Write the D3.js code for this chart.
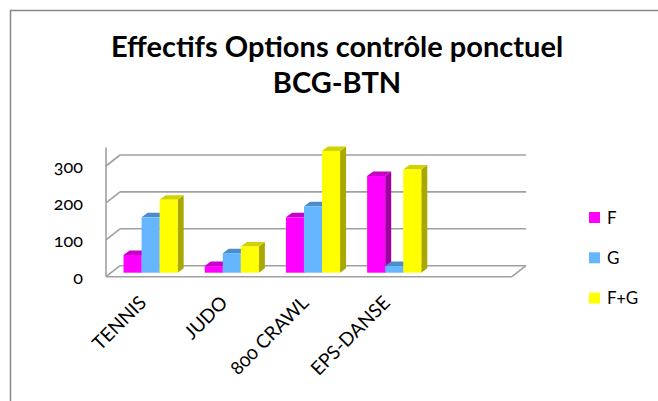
<!DOCTYPE html>
<html>
<head>
<meta charset="utf-8">
<script src="https://cdn.jsdelivr.net/npm/d3@7"></script>
<style>
  body { margin: 0; background: #fff; }
  svg { display: block; font-family: Lato, "Open Sans", sans-serif; font-variant-numeric: oldstyle-nums; }
</style>
</head>
<body>
<svg width="658" height="401"></svg>
<script>
// data (the fifth category is empty in the sheet)
const categories = ['TENNIS', 'JUDO', '800 CRAWL', 'EPS-DANSE', '']
const seriesNames = ['F', 'G', 'F+G']
const valuesF = [48, 18, 150, 262, null]
const valuesG = [150, 53, 180, 18, null]
const valuesFG = [198, 71, 330, 280, null]
const yTicks = [0, 100, 200, 300]
const yMax = 350

const colors = {
  'F': { front: '#ff00ff', top: '#c800c8', side: '#a000a0' },
  'G': { front: '#66b5ff', top: '#4a8ccc', side: '#3f78b0' },
  'F+G': { front: '#ffff00', top: '#d2d200', side: '#a8a800' }
}

const series = [valuesF, valuesG, valuesFG]

const svg = d3.select('svg')

// chart frame
svg.append('rect')
  .attr('x', 10.5).attr('y', 10.5)
  .attr('width', 700).attr('height', 500)
  .attr('fill', 'none').attr('stroke', '#888').attr('stroke-width', 1.5)

// title
const title = svg.append('text')
  .attr('text-anchor', 'middle')
  .attr('font-weight', 'bold')
  .attr('font-size', 29)
  .attr('fill', '#000')
title.append('tspan').attr('x', 337).attr('y', 57).text('Effectifs Options contrôle ponctuel')
title.append('tspan').attr('x', 337).attr('y', 93).text('BCG-BTN')

// back wall geometry; depth offset goes to front-left-down
const back = { left: 120, right: 526 }
const depth = { dx: -14, dy: 11 }
const barDepth = { dx: 6, dy: -4.5 }
const barPlane = { dx: -10, dy: 7 }

const y = d3.scaleLinear()
  .domain([0, yMax])
  .range([265.7, 265.7 - yMax * 0.369])

const x0 = d3.scaleBand()
  .domain(categories)
  .range([back.left + barPlane.dx, back.right + barPlane.dx])

// gap width 150 % : three bars + 1.5 bar of gap
const barW = x0.bandwidth() / 4.5
const x1 = d3.scaleBand()
  .domain(seriesNames)
  .range([barW * 0.75, barW * 3.75])

const gridColor = '#a0a0a0'
const grid = svg.append('g').attr('stroke', gridColor).attr('stroke-width', 1.6).attr('fill', 'none')

// back gridlines + side wall diagonals
yTicks.forEach(t => {
  grid.append('line')
    .attr('x1', back.left).attr('x2', back.right)
    .attr('y1', y(t)).attr('y2', y(t))
  grid.append('line')
    .attr('x1', back.left).attr('y1', y(t))
    .attr('x2', back.left + depth.dx).attr('y2', y(t) + depth.dy)
})

// floor front edge and right diagonal
grid.append('line')
  .attr('x1', back.left + depth.dx).attr('x2', back.right + depth.dx)
  .attr('y1', y(0) + depth.dy).attr('y2', y(0) + depth.dy)
grid.append('line')
  .attr('x1', back.right).attr('y1', y(0))
  .attr('x2', back.right + depth.dx).attr('y2', y(0) + depth.dy)

// vertical axis line at the front
grid.append('line')
  .attr('x1', back.left + depth.dx).attr('x2', back.left + depth.dx)
  .attr('y1', y(0) + depth.dy).attr('y2', y(yMax) + depth.dy)

// y tick labels
svg.append('g')
  .attr('font-size', 18)
  .attr('text-anchor', 'end')
  .attr('fill', '#000')
  .selectAll('text')
  .data(yTicks)
  .join('text')
  .attr('x', 83)
  .attr('y', d => y(d) + depth.dy)
  .attr('dy', '0.4em')
  .text(d => d)

// 3D bars
const bars = []
categories.forEach((c, i) => {
  seriesNames.forEach((s, j) => {
    const v = series[j][i]
    if (v == null) return
    bars.push({ cat: c, key: s, value: v })
  })
})

const barG = svg.append('g')
bars.forEach(d => {
  const xl = x0(d.cat) + x1(d.key)
  const xr = xl + barW
  const yb = y(0) + barPlane.dy
  const yt = y(d.value) + barPlane.dy
  const c = colors[d.key]
  const g = barG.append('g')
  g.append('path')
    .attr('d', `M${xr},${yb}L${xr + barDepth.dx},${yb + barDepth.dy}L${xr + barDepth.dx},${yt + barDepth.dy}L${xr},${yt}Z`)
    .attr('fill', c.side)
  g.append('path')
    .attr('d', `M${xl},${yt}L${xr},${yt}L${xr + barDepth.dx},${yt + barDepth.dy}L${xl + barDepth.dx},${yt + barDepth.dy}Z`)
    .attr('fill', c.top)
  g.append('rect')
    .attr('x', xl).attr('y', yt)
    .attr('width', barW).attr('height', yb - yt)
    .attr('fill', c.front)
})

// x labels, rotated
svg.append('g')
  .attr('font-size', 19)
  .attr('text-anchor', 'end')
  .attr('fill', '#000')
  .selectAll('text')
  .data(categories.filter(c => c !== ''))
  .join('text')
  .attr('transform', d => 'translate(' + (x0(d) + x0.bandwidth() / 2 - 3) + ',' + 304 + ') rotate(-45)')
  .text(d => d)

// legend
const legend = svg.append('g').attr('font-size', 17).attr('fill', '#000')
const legendItems = legend.selectAll('g')
  .data(seriesNames)
  .join('g')
  .attr('transform', (d, i) => 'translate(589,' + (217.5 + i * 40.3) + ')')
legendItems.append('rect')
  .attr('x', 0).attr('y', -5.5)
  .attr('width', 11).attr('height', 11)
  .attr('fill', d => colors[d].front)
legendItems.append('text')
  .attr('x', 18).attr('dy', '0.36em')
  .text(d => d)
</script>
</body>
</html>
